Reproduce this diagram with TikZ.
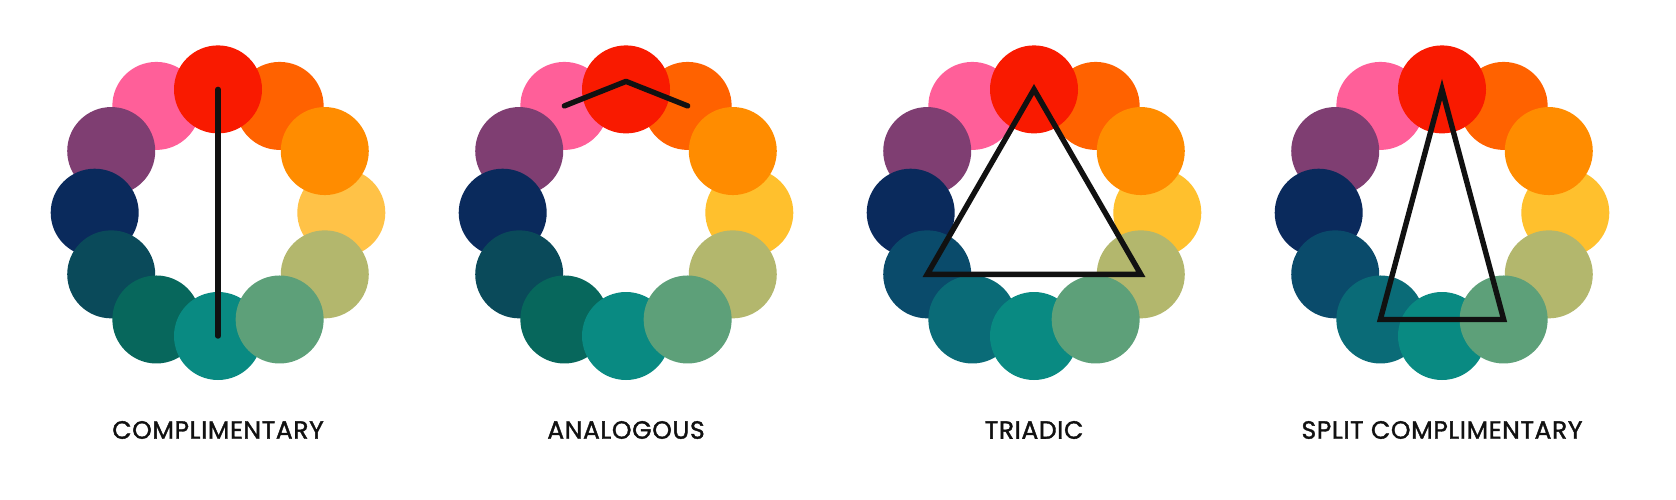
\documentclass[tikz,border=0pt]{standalone}
\usepackage{fontspec}
\setmainfont{Poppins}[LetterSpace=2.5,FakeBold=1.5]
\definecolor{cred}{HTML}{F91A00}
\definecolor{corangered}{HTML}{FF6200}
\definecolor{corange}{HTML}{FF8C00}
\definecolor{cyellowA}{HTML}{FFC247}
\definecolor{cyellowB}{HTML}{FFC02D}
\definecolor{colive}{HTML}{B3B76D}
\definecolor{csage}{HTML}{5DA079}
\definecolor{cteal}{HTML}{098A82}
\definecolor{cdgreen}{HTML}{07675C}
\definecolor{cdteal}{HTML}{0A4A5A}
\definecolor{cblueteal}{HTML}{0A4B6B}
\definecolor{ctealblue}{HTML}{0A6B77}
\definecolor{cnavy}{HTML}{0A2A5C}
\definecolor{cpurple}{HTML}{7F3E72}
\definecolor{cpink}{HTML}{FF5F99}
\definecolor{ink}{HTML}{111111}
\tikzset{
  dot/.style={circle,draw=none,inner sep=0pt,minimum size=88pt},
  link/.style={draw=ink,line width=5.4pt,line cap=round,line join=round},
  tri/.style={draw=ink,line width=5.4pt,line join=miter},
  lbl/.style={text=ink,font=\fontsize{25}{28}\selectfont,inner sep=0pt,anchor=center}
}
\newcommand\colorwheel[5]{%
  \foreach \i/\c in {11/cpink,10/cpurple,9/cnavy,8/#4,7/#3,6/cteal,3/#5,4/colive,5/csage,1/corangered,2/corange,0/cred}{%
    \node[dot,fill=\c] (#1c\i) at ({#2+123.3*sin(30*\i)},{212.7-123.3*cos(30*\i)}) {};
  }%
}
\begin{document}
\begin{tikzpicture}[x=1pt,y=-1pt]
\useasboundingbox[fill=white] (0,0) rectangle (1676,500);
\colorwheel{wa}{218}{cdgreen}{cdteal}{cyellowA}
\colorwheel{wb}{626}{cdgreen}{cdteal}{cyellowB}
\colorwheel{wc}{1034}{ctealblue}{cblueteal}{cyellowB}
\colorwheel{wd}{1442}{ctealblue}{cblueteal}{cyellowB}
% complementary
\draw[link] (wac0.center) -- (wac6.center);
% analogous
\coordinate (wbpeak) at ([yshift=8pt]wbc0.center);
\draw[link] (wbc11.center) -- (wbpeak) -- (wbc1.center);
% triadic
\draw[tri] (wcc0.center) -- (wcc4.center) -- (wcc8.center) -- cycle;
% split complementary
\draw[tri] (wdc0.center) -- (wdc5.center) -- (wdc7.center) -- cycle;
% labels
\node[lbl] (la) at (218,430) {COMPLIMENTARY};
\node[lbl] (lb) at (626,430) {ANALOGOUS};
\node[lbl] (lc) at (1034,430) {TRIADIC};
\node[lbl] (ld) at (1442,430) {SPLIT COMPLIMENTARY};
\end{tikzpicture}
\end{document}
